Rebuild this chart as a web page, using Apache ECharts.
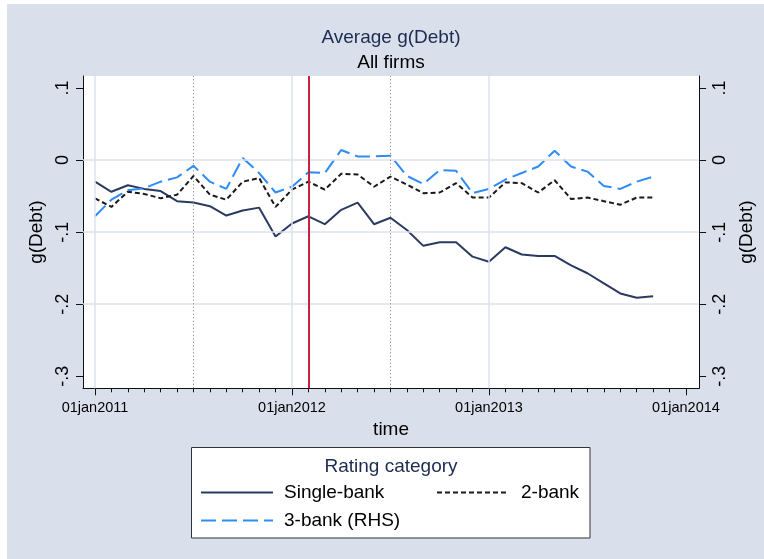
<!DOCTYPE html>
<html>
<head>
<meta charset="utf-8">
<script src="https://cdn.jsdelivr.net/npm/echarts@6/dist/echarts.min.js"></script>
<style>
html,body{margin:0;padding:0;background:#fff;}
#chart{width:764px;height:559px;}
</style>
</head>
<body>
<div id="chart"></div>
<script>
// ---- data ----
const months = ['2011-01','2011-02','2011-03','2011-04','2011-05','2011-06','2011-07','2011-08','2011-09','2011-10','2011-11','2011-12',
  '2012-01','2012-02','2012-03','2012-04','2012-05','2012-06','2012-07','2012-08','2012-09','2012-10','2012-11','2012-12',
  '2013-01','2013-02','2013-03','2013-04','2013-05','2013-06','2013-07','2013-08','2013-09','2013-10','2013-11'];
const singleBank = [-0.030,-0.044,-0.035,-0.040,-0.043,-0.057,-0.059,-0.064,-0.077,-0.070,-0.066,-0.106,
  -0.088,-0.078,-0.089,-0.069,-0.059,-0.089,-0.080,-0.097,-0.119,-0.114,-0.114,-0.134,
  -0.141,-0.121,-0.131,-0.133,-0.133,-0.146,-0.157,-0.171,-0.185,-0.191,-0.189];
const twoBank = [-0.053,-0.065,-0.044,-0.047,-0.053,-0.048,-0.022,-0.048,-0.055,-0.030,-0.025,-0.065,
  -0.041,-0.030,-0.041,-0.019,-0.020,-0.037,-0.023,-0.034,-0.046,-0.045,-0.032,-0.052,
  -0.052,-0.031,-0.032,-0.045,-0.028,-0.054,-0.052,-0.057,-0.062,-0.052,-0.052];
const threeBank = [-0.078,-0.055,-0.042,-0.039,-0.030,-0.024,-0.008,-0.030,-0.040,0.003,-0.018,-0.045,
  -0.037,-0.017,-0.018,0.014,0.005,0.005,0.006,-0.022,-0.033,-0.014,-0.015,-0.046,
  -0.040,-0.027,-0.018,-0.009,0.013,-0.009,-0.016,-0.036,-0.040,-0.030,-0.023];
const seriesNames = ['Single-bank','2-bank','3-bank (RHS)'];
const xTickDates = ['2011-01','2012-01','2013-01','2014-01'];
const xTickLabels = ['01jan2011','01jan2012','01jan2013','01jan2014'];
const yTicks = [-0.3,-0.2,-0.1,0,0.1];
const yTickLabels = ['-.3','-.2','-.1','0','.1'];
const yGrid = [-0.2,-0.1,0];
const xGridDates = ['2011-01','2012-01','2013-01'];
const redLineDate = '2012-02';
const dottedLineDates = ['2011-07','2012-07'];

// ---- helpers ----
const mi = s => (Number(s.slice(0,4)) - 2011) * 12 + Number(s.slice(5,7)) - 1;
const pairs = arr => months.map((m,i) => [mi(m), arr[i]]);
const xMajor = xTickDates.map(mi);
const xMinor = [];
for (let v = xMajor[0]; v <= xMajor[xMajor.length-1]; v++) xMinor.push(v);
const xMin = -0.73, xMax = 36.8, yMin = -0.3166, yMax = 0.1166;
const FONT = '"Liberation Sans", Arial, Helvetica, sans-serif';
const BG = '#dae0eb';
const yFmt = v => { const k = yTicks.findIndex(t => Math.abs(t - v) < 1e-6); return k >= 0 ? yTickLabels[k] : ''; };
const xFmt = v => { const k = xMajor.findIndex(t => Math.abs(t - v) < 1e-6); return k >= 0 ? xTickLabels[k] : ''; };

const yAxisBase = (pos) => ({
  type: 'value', min: yMin, max: yMax, position: pos,
  axisLine: {show: true, onZero: false, lineStyle: {color: '#111', width: 1}},
  axisTick: {show: true, customValues: yTicks, length: 7, lineStyle: {color: '#111', width: 1}},
  axisLabel: {show: true, customValues: yTicks, formatter: yFmt, rotate: 90, fontSize: 18, color: '#000', margin: pos === 'left' ? 11 : 12, fontFamily: FONT},
  splitLine: {show: false},
  name: 'g(Debt)', nameLocation: 'middle', nameRotate: 90, nameGap: pos === 'left' ? 34 : 25,
  nameTextStyle: {fontSize: 19, color: '#000', fontFamily: FONT}
});

const legendBase = {itemWidth: 72, itemHeight: 14, selectedMode: false, padding: 0,
  itemStyle: {opacity: 0}, textStyle: {fontSize: 19, color: '#000', padding: [0,0,0,6]}};

const chart = echarts.init(document.getElementById('chart'), null, {renderer: 'canvas'});
chart.setOption({
  backgroundColor: '#fff',
  animation: false,
  textStyle: {fontFamily: FONT},
  graphic: {elements: [
    {type: 'rect', shape: {x: 7, y: 4, width: 757, height: 555}, style: {fill: BG}, z: -100, silent: true},
    {type: 'rect', shape: {x: 191.5, y: 447.5, width: 398.5, height: 90.5}, style: {fill: '#fff', stroke: '#333', lineWidth: 1}, z: 0, silent: true},
    {type: 'text', x: 391, y: 467, style: {text: 'Rating category', font: '19px ' + FONT, fill: '#1c2b4f', textAlign: 'center', textVerticalAlign: 'middle'}, z: 1, silent: true}
  ]},
  title: [
    {text: 'Average g(Debt)', left: 391, textAlign: 'center', top: 28, padding: 0, textStyle: {fontSize: 19, fontWeight: 'normal', color: '#1c2b4f', fontFamily: FONT}},
    {text: 'All firms', left: 391, textAlign: 'center', top: 53, padding: 0, textStyle: {fontSize: 19, fontWeight: 'normal', color: '#000', fontFamily: FONT}}
  ],
  grid: {left: 83, top: 76, right: 64, bottom: 170.7, show: true, backgroundColor: '#fff', borderWidth: 0, containLabel: false},
  legend: [
    Object.assign({}, legendBase, {data: [seriesNames[0]], left: 200, top: 483}),
    Object.assign({}, legendBase, {data: [seriesNames[1]], left: 436, top: 483, itemWidth: 69,
      textStyle: {fontSize: 19, color: '#000', padding: [0,0,0,10]}}),
    Object.assign({}, legendBase, {data: [seriesNames[2]], left: 200, top: 511})
  ],
  xAxis: [
    {type: 'value', min: xMin, max: xMax, position: 'bottom',
     axisLine: {show: true, onZero: false, lineStyle: {color: '#111', width: 1}},
     axisTick: {show: true, customValues: xMajor, length: 7, lineStyle: {color: '#111', width: 1}},
     axisLabel: {show: true, customValues: xMajor, formatter: xFmt, fontSize: 14.5, color: '#000', margin: 12, fontFamily: FONT},
     splitLine: {show: false},
     name: 'time', nameLocation: 'middle', nameGap: 30, nameTextStyle: {fontSize: 19, color: '#000', fontFamily: FONT}},
    {type: 'value', min: xMin, max: xMax, position: 'bottom',
     axisLine: {show: false, onZero: false},
     axisTick: {show: true, customValues: xMinor, length: 4, lineStyle: {color: '#111', width: 1}},
     axisLabel: {show: false}, splitLine: {show: false}}
  ],
  yAxis: [yAxisBase('left'), yAxisBase('right')],
  series: [
    {name: 'refs', type: 'line', data: [], z: 1, silent: true,
     markLine: {silent: true, symbol: 'none', label: {show: false}, animation: false,
       data: [
         ...yGrid.map(v => ({yAxis: v, lineStyle: {color: '#dde3ee', width: 1.5, type: 'solid'}})),
         ...xGridDates.map(d => ({xAxis: mi(d), lineStyle: {color: '#dde3ee', width: 1.5, type: 'solid'}})),
         ...dottedLineDates.map(d => ({xAxis: mi(d), lineStyle: {color: '#777', width: 1, type: [1, 2.5]}})),
         {xAxis: mi(redLineDate), lineStyle: {color: '#c8203f', width: 2, type: 'solid'}}
       ]}},
    {name: seriesNames[0], type: 'line', data: pairs(singleBank), symbol: 'none', z: 3,
     lineStyle: {color: '#2a3a60', width: 2}, itemStyle: {color: '#2a3a60'}},
    {name: seriesNames[1], type: 'line', data: pairs(twoBank), symbol: 'none', z: 3,
     lineStyle: {color: '#1a1a1a', width: 2, type: [5, 3]}, itemStyle: {color: '#1a1a1a'}},
    {name: seriesNames[2], type: 'line', data: pairs(threeBank), symbol: 'none', z: 3, yAxisIndex: 1,
     lineStyle: {color: '#2f8cf5', width: 2, type: [15, 6]}, itemStyle: {color: '#2f8cf5'}}
  ]
});
</script>
</body>
</html>
